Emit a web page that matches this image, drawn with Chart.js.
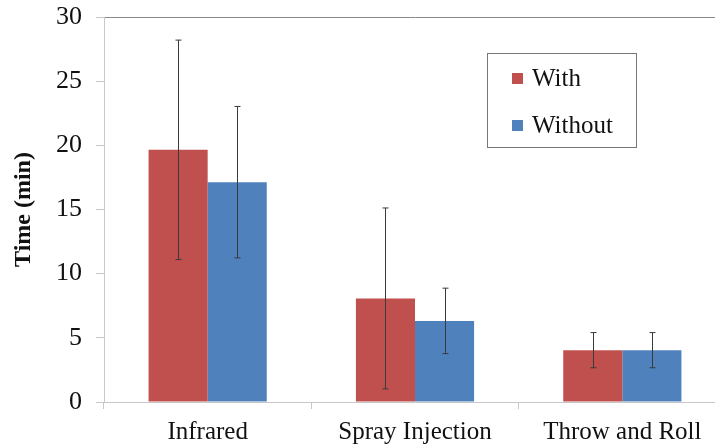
<!DOCTYPE html>
<html lang="en">
<head>
  <meta charset="UTF-8" />
  <title>Time (min) by method</title>
  <script src="https://cdn.jsdelivr.net/npm/chart.js@4.4.1/dist/chart.umd.min.js"></script>
  <style>
    *{box-sizing:border-box;margin:0;padding:0;}
    html,body{width:715px;height:446px;overflow:hidden;background:#fff;}
    canvas{display:block;}
  </style>
</head>
<body>
  <canvas id="chart" width="726" height="446"></canvas>
  <script>
  /* -------- data -------- */
  const categories=['Infrared','Spray Injection','Throw and Roll'];
  const withTime=[19.65,8.07,4.04];
  const withErr=[8.55,7.05,1.37];
  const withoutTime=[17.13,6.32,4.04];
  const withoutErr=[5.9,2.55,1.37];
  const yTicks=[0,5,10,15,20,25,30];

  const serif='"Liberation Serif","Times New Roman",serif';

  /* error bars, drawn from each dataset's err array */
  const errorBars={
    id:'errorBars',
    afterDatasetsDraw(chart){
      const {ctx,scales:{y}}=chart;
      ctx.save();
      ctx.strokeStyle='#3a3a3a';
      ctx.lineWidth=1;
      chart.data.datasets.forEach((ds,i)=>{
        const meta=chart.getDatasetMeta(i);
        meta.data.forEach((bar,j)=>{
          const v=ds.data[j],e=ds.err[j];
          const x=Math.round(bar.x)+0.5;
          const yTop=y.getPixelForValue(v+e),yBot=y.getPixelForValue(v-e);
          ctx.beginPath();
          ctx.moveTo(x,yTop);ctx.lineTo(x,yBot);
          ctx.moveTo(x-3,yTop);ctx.lineTo(x+3,yTop);
          ctx.moveTo(x-3,yBot);ctx.lineTo(x+3,yBot);
          ctx.stroke();
        });
      });
      ctx.restore();
    }
  };

  /* boxed legend inside the plot */
  const boxLegend={
    id:'boxLegend',
    afterDraw(chart){
      const {ctx,chartArea:a}=chart;
      const bx=a.left+383,by=a.top+36,bw=149,bh=94;
      ctx.save();
      ctx.strokeStyle='#777';
      ctx.lineWidth=1;
      ctx.strokeRect(bx+0.5,by+0.5,bw,bh);
      ctx.font='25px '+serif;
      ctx.textBaseline='middle';
      chart.data.datasets.forEach((ds,i)=>{
        const cy=by+25+i*47;
        ctx.fillStyle=ds.backgroundColor;
        ctx.fillRect(bx+25,cy-5,11,11);
        ctx.fillStyle='#111';
        ctx.fillText(ds.label,bx+45,cy+1);
      });
      ctx.restore();
    }
  };

  new Chart(document.getElementById('chart'),{
    type:'bar',
    data:{
      labels:categories,
      datasets:[
        {label:'With',data:withTime,err:withErr,backgroundColor:'#c0504d'},
        {label:'Without',data:withoutTime,err:withoutErr,backgroundColor:'#4f81bd'}
      ]
    },
    options:{
      responsive:false,
      animation:false,
      devicePixelRatio:1,
      layout:{padding:{top:17,right:0,bottom:0,left:0}},
      datasets:{bar:{categoryPercentage:0.57,barPercentage:1,borderWidth:0}},
      plugins:{legend:{display:false},tooltip:{enabled:false}},
      scales:{
        x:{
          offset:true,
          grid:{offset:true,drawOnChartArea:false,color:'#c8c8c8',tickLength:7},
          border:{color:'#c8c8c8'},
          ticks:{font:{family:serif,size:25},color:'#111',padding:8,maxRotation:0,autoSkip:false},
          afterFit(s){s.height=44;s.paddingLeft=0;s.paddingRight=0;}
        },
        y:{
          min:0,max:30,
          afterBuildTicks(s){s.ticks=yTicks.map(v=>({value:v}));},
          grid:{
            color:c=>c.tick&&c.tick.value===30?'#8a8a8a':'transparent',
            tickColor:'#c8c8c8',tickLength:8
          },
          border:{color:'#c8c8c8'},
          ticks:{font:{family:serif,size:26},color:'#111',padding:14,autoSkip:false},
          title:{display:true,text:'Time (min)',font:{family:serif,size:24,weight:'bold'},color:'#111',padding:{top:9,bottom:4}},
          afterFit(s){s.width=104;s.paddingTop=0;s.paddingBottom=0;}
        }
      }
    },
    plugins:[errorBars,boxLegend]
  });
  </script>
</body>
</html>
